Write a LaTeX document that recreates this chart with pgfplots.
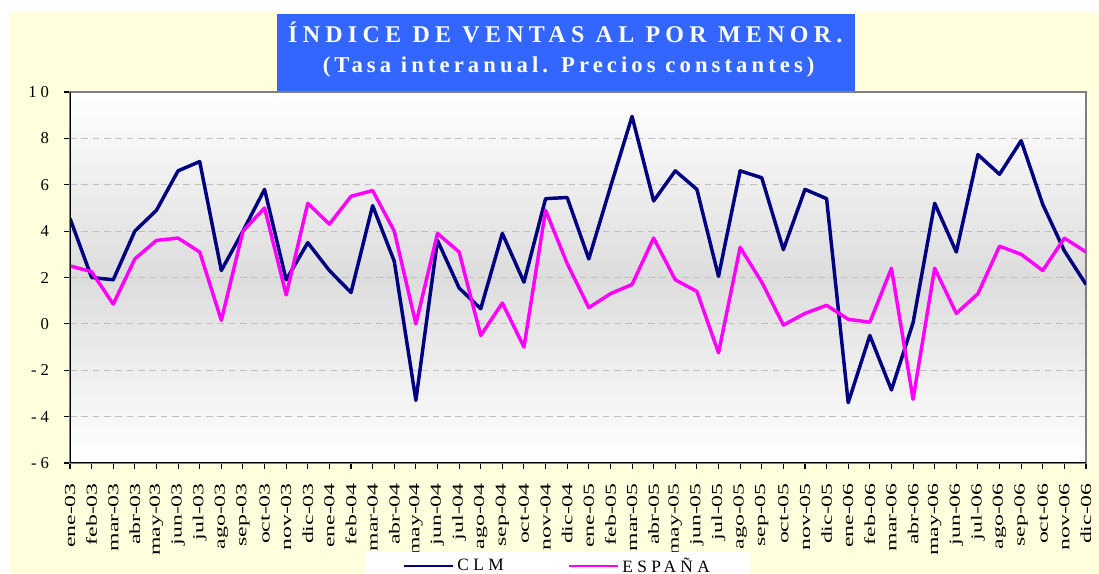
\documentclass[border=0pt]{standalone}
\usepackage{graphicx}
\usepackage{pgfplots}
\pgfplotsset{compat=1.18}
\usepackage{fontspec}
\setmainfont{Liberation Serif}
\newfontfamily\titlefontA[LetterSpace=22]{Liberation Serif}
\newfontfamily\titlefontB[LetterSpace=18]{Liberation Serif}
\newfontfamily\legfont[LetterSpace=25]{Liberation Serif}
\newcommand{\TL}[1]{\scalebox{1.55}[1]{#1}}
\newcommand{\ysp}{\hspace{3pt}}
\definecolor{bgyellow}{RGB}{255,255,221}
\definecolor{titleblue}{RGB}{51,102,255}
\definecolor{clm}{RGB}{0,0,128}
\definecolor{esp}{RGB}{255,0,255}
\begin{document}
\begin{tikzpicture}
\useasboundingbox (0,0) rectangle (824.25pt,430.5pt);
\fill[white] (0,0) rectangle (824.25pt,430.5pt);
\fill[bgyellow] (7.5pt,0) rectangle (824.25pt,421.5pt);
\begin{axis}[
  at={(52.5pt,83.25pt)}, anchor=south west,
  scale only axis, width=762pt, height=278.25pt,
  xmin=0, xmax=47, ymin=-6, ymax=10,
  xtick={0,...,47},
  xticklabels={\TL{ene-03},\TL{feb-03},\TL{mar-03},\TL{abr-03},\TL{may-03},\TL{jun-03},\TL{jul-03},\TL{ago-03},\TL{sep-03},\TL{oct-03},\TL{nov-03},\TL{dic-03},
               \TL{ene-04},\TL{feb-04},\TL{mar-04},\TL{abr-04},\TL{may-04},\TL{jun-04},\TL{jul-04},\TL{ago-04},\TL{sep-04},\TL{oct-04},\TL{nov-04},\TL{dic-04},
               \TL{ene-05},\TL{feb-05},\TL{mar-05},\TL{abr-05},\TL{may-05},\TL{jun-05},\TL{jul-05},\TL{ago-05},\TL{sep-05},\TL{oct-05},\TL{nov-05},\TL{dic-05},
               \TL{ene-06},\TL{feb-06},\TL{mar-06},\TL{abr-06},\TL{may-06},\TL{jun-06},\TL{jul-06},\TL{ago-06},\TL{sep-06},\TL{oct-06},\TL{nov-06},\TL{dic-06}},
  ytick={-6,-4,...,10},
  yticklabels={-\ysp6,-\ysp4,-\ysp2,0,2,4,6,8,1\ysp0},
  tick align=outside, xtick pos=left, ytick pos=left,
  major tick length=4.5pt,
  tick style={black, line width=0.8pt},
  axis line style={draw=gray, line width=1pt},
  ymajorgrids,
  grid style={gray!50, dash pattern=on 5pt off 3.5pt, line width=0.6pt},
  axis background/.style={shade, top color=white, bottom color=white, middle color=gray!27},
  xticklabel style={rotate=90, anchor=east, font=\fontsize{11.5}{12}\selectfont, inner xsep=10.5pt, inner ysep=1pt},
  yticklabel style={font=\fontsize{12.5}{13}\selectfont, inner xsep=11pt},
  legend columns=2,
  legend style={at={(0.480,-0.2400)}, anchor=north, draw=none, fill=white,
    font=\legfont\fontsize{13}{14}\selectfont, inner xsep=28pt, inner ysep=2pt,
    /tikz/every even column/.append style={column sep=46pt}},
  legend image code/.code={\draw[#1,line width=2pt] (0pt,0pt) -- (37pt,0pt);},
]
\addplot[clm, line width=2.6pt, line join=round] coordinates {
(0,4.55) (1,2.0) (2,1.9) (3,4.0) (4,4.9) (5,6.6) (6,7.0) (7,2.3) (8,4.0) (9,5.8) (10,1.9) (11,3.5)
(12,2.3) (13,1.35) (14,5.1) (15,2.7) (16,-3.3) (17,3.6) (18,1.55) (19,0.65) (20,3.9) (21,1.8) (22,5.4) (23,5.45)
(24,2.8) (25,5.9) (26,8.95) (27,5.3) (28,6.6) (29,5.8) (30,2.05) (31,6.6) (32,6.3) (33,3.2) (34,5.8) (35,5.4)
(36,-3.4) (37,-0.5) (38,-2.85) (39,0.05) (40,5.2) (41,3.1) (42,7.3) (43,6.45) (44,7.9) (45,5.15) (46,3.15) (47,1.7)
};
\addlegendentry{CLM}
\addplot[esp, line width=2.6pt, line join=round] coordinates {
(0,2.5) (1,2.25) (2,0.85) (3,2.8) (4,3.6) (5,3.7) (6,3.1) (7,0.15) (8,4.0) (9,5.0) (10,1.25) (11,5.2)
(12,4.3) (13,5.5) (14,5.75) (15,4.0) (16,0.0) (17,3.9) (18,3.1) (19,-0.5) (20,0.9) (21,-1.0) (22,4.9) (23,2.6)
(24,0.7) (25,1.3) (26,1.7) (27,3.7) (28,1.9) (29,1.4) (30,-1.25) (31,3.3) (32,1.8) (33,-0.05) (34,0.45) (35,0.8)
(36,0.2) (37,0.07) (38,2.4) (39,-3.25) (40,2.4) (41,0.45) (42,1.3) (43,3.35) (44,3.0) (45,2.3) (46,3.7) (47,3.1)
};
\addlegendentry{ESPAÑA}
\draw[black, line width=1pt] (rel axis cs:0,1) -- (rel axis cs:0,0) -- (rel axis cs:1,0);
\end{axis}
\fill[titleblue] (207.75pt,362.25pt) rectangle (641.25pt,420pt);
\node[anchor=base, text=white, inner sep=0pt, font=\titlefontA\bfseries\fontsize{18}{20}\selectfont] at (424pt,398.25pt) {ÍNDICE DE VENTAS AL POR MENOR.};
\node[anchor=base, text=white, inner sep=0pt, font=\titlefontB\bfseries\fontsize{17}{19}\selectfont] at (426.5pt,375.75pt) {(Tasa interanual. Precios constantes)};
\end{tikzpicture}
\end{document}
